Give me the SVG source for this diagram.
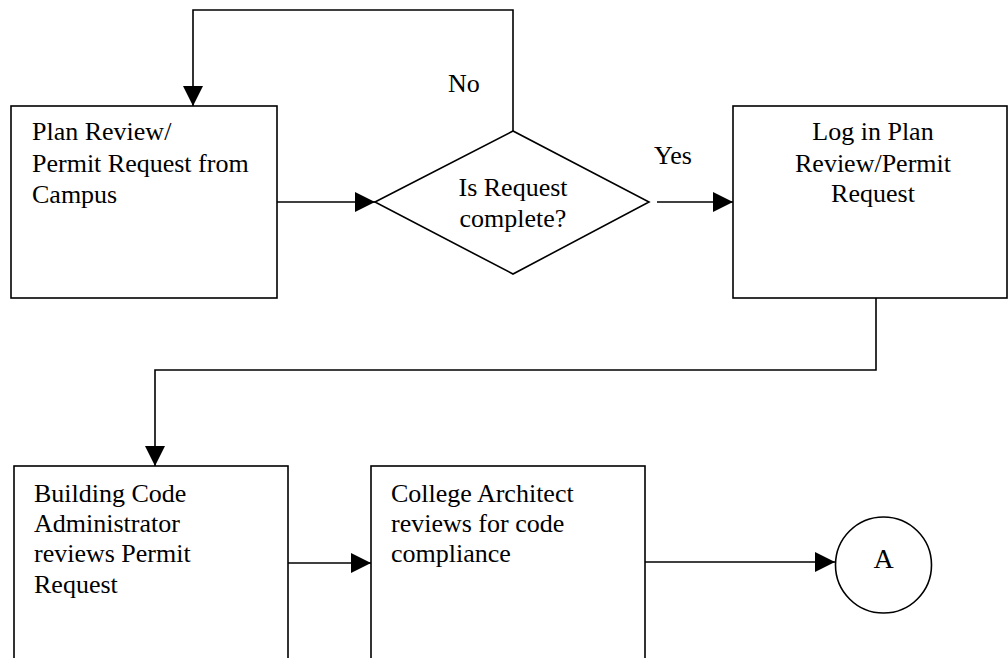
<svg xmlns="http://www.w3.org/2000/svg" width="1008" height="658" viewBox="0 0 1008 658">
<style>
.box{fill:#fff;stroke:#000;stroke-width:1.6}
.ln{fill:none;stroke:#000;stroke-width:1.6}
text{font-family:"Liberation Serif","Times New Roman",serif;font-size:26px;fill:#000}
.c{text-anchor:middle}
</style>
<defs>
<marker id="ah" markerUnits="userSpaceOnUse" markerWidth="20" markerHeight="20" refX="20" refY="10" orient="auto" viewBox="0 0 20 20">
<path d="M0,0 L20,10 L0,20 Z" fill="#000"/>
</marker>
</defs>
<rect width="1008" height="658" fill="#fff"/>
<g id="connectors">
<path class="ln" d="M513,131 V10 H193 V106" marker-end="url(#ah)"/>
<path class="ln" d="M277,202 H375" marker-end="url(#ah)"/>
<path class="ln" d="M657,202 H733" marker-end="url(#ah)"/>
<path class="ln" d="M876,298 V370 H155 V466" marker-end="url(#ah)"/>
<path class="ln" d="M288,563 H371" marker-end="url(#ah)"/>
<path class="ln" d="M645,562 H835" marker-end="url(#ah)"/>
<text x="448" y="92">No</text>
<text x="654" y="164">Yes</text>
</g>
<g id="n1">
<rect class="box" x="11" y="106" width="266" height="192"/>
<text x="32" y="140">Plan Review/</text>
<text x="32" y="172">Permit Request from</text>
<text x="32" y="203">Campus</text>
</g>
<g id="n2">
<polygon class="box" points="375,202 513,131 649,202 513,274"/>
<text class="c" x="513" y="196">Is Request</text>
<text class="c" x="513" y="227">complete?</text>
</g>
<g id="n3">
<rect class="box" x="733" y="106" width="274" height="192"/>
<text class="c" x="873" y="140">Log in Plan</text>
<text class="c" x="873" y="172">Review/Permit</text>
<text class="c" x="873" y="202">Request</text>
</g>
<g id="n4">
<rect class="box" x="14" y="466" width="274" height="200"/>
<text x="34" y="502">Building Code</text>
<text x="34" y="532">Administrator</text>
<text x="34" y="562">reviews Permit</text>
<text x="34" y="593">Request</text>
</g>
<g id="n5">
<rect class="box" x="371" y="466" width="274" height="200"/>
<text x="391" y="502">College Architect</text>
<text x="391" y="532">reviews for code</text>
<text x="391" y="562">compliance</text>
</g>
<g id="n6">
<circle class="box" cx="883.5" cy="565" r="48"/>
<text class="c" x="883.5" y="568" style="font-size:28px">A</text>
</g>
</svg>
